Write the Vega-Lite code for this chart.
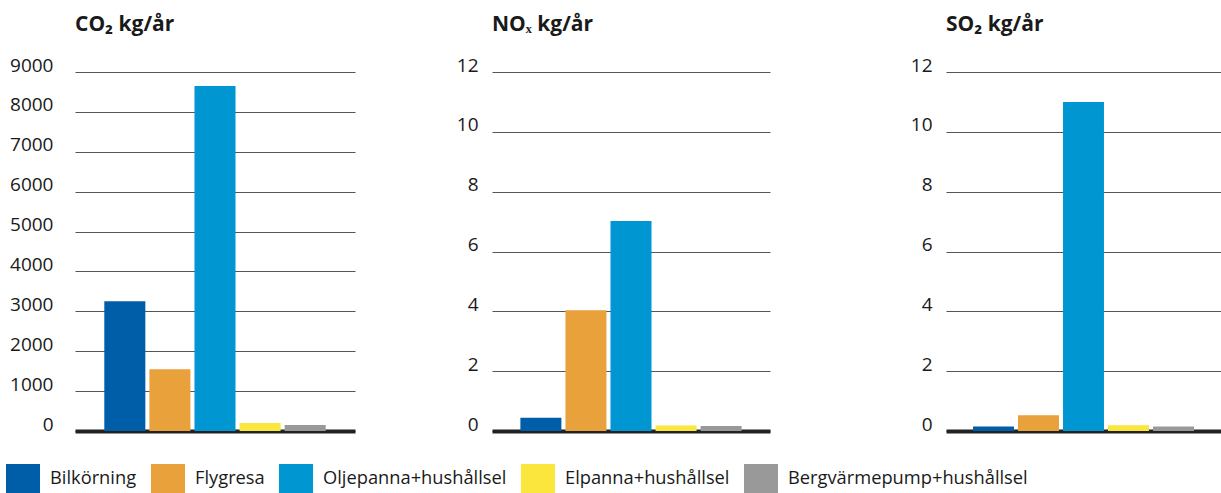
{
  "$schema": "https://vega.github.io/schema/vega-lite/v6.json",
  "padding": {"left": 5, "top": 14, "right": 0, "bottom": 0},
  "background": "white",
  "data": {"values": [
    {"amne": "CO2", "kategori": "Bilkörning", "varde": 3250},
    {"amne": "CO2", "kategori": "Flygresa", "varde": 1550},
    {"amne": "CO2", "kategori": "Oljepanna+hushållsel", "varde": 8650},
    {"amne": "CO2", "kategori": "Elpanna+hushållsel", "varde": 200},
    {"amne": "CO2", "kategori": "Bergvärmepump+hushållsel", "varde": 150},
    {"amne": "NOX", "kategori": "Bilkörning", "varde": 0.44},
    {"amne": "NOX", "kategori": "Flygresa", "varde": 4.04},
    {"amne": "NOX", "kategori": "Oljepanna+hushållsel", "varde": 7.02},
    {"amne": "NOX", "kategori": "Elpanna+hushållsel", "varde": 0.18},
    {"amne": "NOX", "kategori": "Bergvärmepump+hushållsel", "varde": 0.17},
    {"amne": "SO2", "kategori": "Bilkörning", "varde": 0.15},
    {"amne": "SO2", "kategori": "Flygresa", "varde": 0.53},
    {"amne": "SO2", "kategori": "Oljepanna+hushållsel", "varde": 11.0},
    {"amne": "SO2", "kategori": "Elpanna+hushållsel", "varde": 0.19},
    {"amne": "SO2", "kategori": "Bergvärmepump+hushållsel", "varde": 0.15}
  ]},
  "config": {
    "font": "Open Sans",
    "view": {"stroke": null},
    "title": {"anchor": "start", "frame": "group", "fontSize": 21, "fontWeight": "bold", "color": "#1a1a1a", "offset": 21},
    "axisX": {"title": null, "labels": false, "ticks": false, "grid": false, "domain": true, "domainWidth": 4, "domainColor": "#222222", "zindex": 1},
    "axisY": {"title": null, "grid": true, "gridColor": "#555555", "gridWidth": 1, "domain": false, "ticks": false, "tickSize": 0, "labelFontSize": 19, "labelColor": "#1a1a1a", "labelOffset": -7},
    "concat": {"spacing": 20},
    "legend": {"symbolType": "M-1,-0.882H1V0.882H-1Z", "symbolSize": 1156, "symbolStrokeWidth": 0, "symbolOpacity": 1, "labelFontSize": 18.3, "labelColor": "#1a1a1a", "labelOffset": 10, "columnPadding": 14, "labelLimit": 400}
  },
  "hconcat": [
    {
      "title": "CO₂ kg/år",
      "width": 280, "height": 359,
      "transform": [{"filter": "datum.amne == 'CO2'"}],
      "mark": {"type": "bar"},
      "encoding": {
        "x": {"field": "kategori", "type": "nominal", "sort": ["Bilkörning", "Flygresa", "Oljepanna+hushållsel", "Elpanna+hushållsel", "Bergvärmepump+hushållsel"], "scale": {"paddingInner": 0.09, "paddingOuter": 0.65}},
        "y": {"field": "varde", "type": "quantitative", "scale": {"domain": [0, 9000], "nice": false}, "axis": {"values": [0, 1000, 2000, 3000, 4000, 5000, 6000, 7000, 8000, 9000], "format": "d", "labelPadding": 22, "minExtent": 70, "maxExtent": 70}},
        "color": {"field": "kategori", "type": "nominal", "scale": {"domain": ["Bilkörning", "Flygresa", "Oljepanna+hushållsel", "Elpanna+hushållsel", "Bergvärmepump+hushållsel"], "range": ["#005DA8", "#E9A13B", "#0096D2", "#FAE63C", "#999999"]}, "legend": {"title": null, "orient": "none", "legendX": -69, "legendY": 390, "direction": "horizontal"}}
      }
    },
    {
      "title": "NOₓ kg/år",
      "width": 278, "height": 359,
      "transform": [{"filter": "datum.amne == 'NOX'"}],
      "mark": {"type": "bar"},
      "encoding": {
        "x": {"field": "kategori", "type": "nominal", "sort": ["Bilkörning", "Flygresa", "Oljepanna+hushållsel", "Elpanna+hushållsel", "Bergvärmepump+hushållsel"], "scale": {"paddingInner": 0.09, "paddingOuter": 0.63}},
        "y": {"field": "varde", "type": "quantitative", "scale": {"domain": [0, 12], "nice": false}, "axis": {"values": [0, 2, 4, 6, 8, 10, 12], "format": "d", "labelPadding": 14, "minExtent": 117, "maxExtent": 117}},
        "color": {"field": "kategori", "type": "nominal", "scale": {"domain": ["Bilkörning", "Flygresa", "Oljepanna+hushållsel", "Elpanna+hushållsel", "Bergvärmepump+hushållsel"], "range": ["#005DA8", "#E9A13B", "#0096D2", "#FAE63C", "#999999"]}, "legend": {"title": null, "orient": "none", "legendX": -69, "legendY": 390, "direction": "horizontal"}}
      }
    },
    {
      "title": "SO₂ kg/år",
      "width": 275, "height": 359,
      "transform": [{"filter": "datum.amne == 'SO2'"}],
      "mark": {"type": "bar"},
      "encoding": {
        "x": {"field": "kategori", "type": "nominal", "sort": ["Bilkörning", "Flygresa", "Oljepanna+hushållsel", "Elpanna+hushållsel", "Bergvärmepump+hushållsel"], "scale": {"paddingInner": 0.09, "paddingOuter": 0.6}},
        "y": {"field": "varde", "type": "quantitative", "scale": {"domain": [0, 12], "nice": false}, "axis": {"values": [0, 2, 4, 6, 8, 10, 12], "format": "d", "labelPadding": 14, "minExtent": 156, "maxExtent": 156}},
        "color": {"field": "kategori", "type": "nominal", "scale": {"domain": ["Bilkörning", "Flygresa", "Oljepanna+hushållsel", "Elpanna+hushållsel", "Bergvärmepump+hushållsel"], "range": ["#005DA8", "#E9A13B", "#0096D2", "#FAE63C", "#999999"]}, "legend": {"title": null, "orient": "none", "legendX": -69, "legendY": 390, "direction": "horizontal"}}
      }
    }
  ]
}
